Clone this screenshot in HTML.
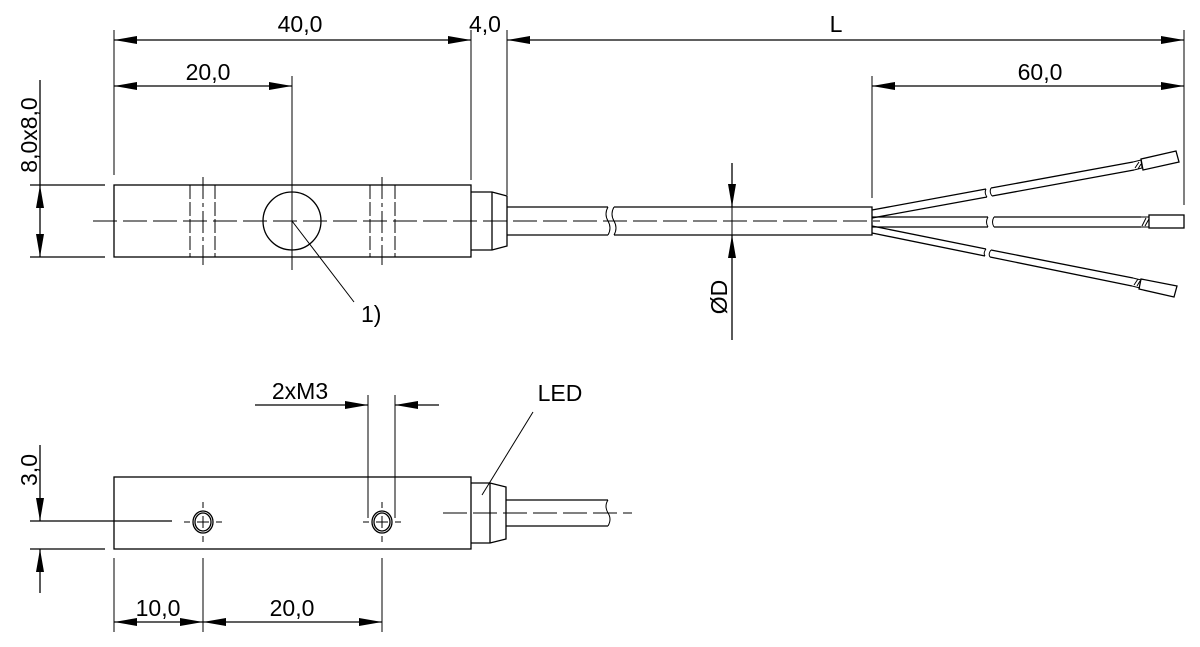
<!DOCTYPE html>
<html><head><meta charset="utf-8"><style>
html,body{margin:0;padding:0;background:#fff;}
svg{display:block}
text{font-family:"Liberation Sans",Arial,sans-serif;font-size:23px;fill:#000}
</style></head><body>
<svg width="1200" height="647" viewBox="0 0 1200 647" xmlns="http://www.w3.org/2000/svg">
<defs>
<marker id="a" markerWidth="24" markerHeight="10" refX="23" refY="5" orient="auto-start-reverse" markerUnits="userSpaceOnUse">
<path d="M0,1 L23,5 L0,9 Z" fill="#000"/></marker>
</defs>
<g stroke="#000" fill="none" stroke-width="1.3">
<line x1="114" y1="40" x2="471" y2="40" marker-start="url(#a)" marker-end="url(#a)"/>
<line x1="507" y1="40" x2="1184" y2="40" marker-start="url(#a)" marker-end="url(#a)"/>
<line x1="114" y1="86" x2="292" y2="86" marker-start="url(#a)" marker-end="url(#a)"/>
<line x1="872" y1="86" x2="1184" y2="86" marker-start="url(#a)" marker-end="url(#a)"/>
<line x1="114" y1="30" x2="114" y2="175" stroke-width="1"/>
<line x1="471" y1="30" x2="471" y2="180" stroke-width="1"/>
<line x1="507" y1="30" x2="507" y2="195" stroke-width="1"/>
<line x1="1184" y1="30" x2="1184" y2="205" stroke-width="1"/>
<line x1="872" y1="76" x2="872" y2="198" stroke-width="1"/>
<line x1="292" y1="76" x2="292" y2="270" stroke-width="1"/>
<line x1="40" y1="80" x2="40" y2="185"/>
<line x1="40" y1="185" x2="40" y2="257" marker-start="url(#a)" marker-end="url(#a)"/>
<line x1="30" y1="185" x2="105" y2="185"/>
<line x1="30" y1="257" x2="105" y2="257"/>
<rect x="114" y="185" width="357" height="72"/>
<ellipse cx="292" cy="221" rx="29" ry="29"/>
<g stroke-width="1">
<line x1="190" y1="185" x2="190" y2="257" stroke-dasharray="14,3"/>
<line x1="215" y1="185" x2="215" y2="257" stroke-dasharray="14,3"/>
<line x1="203" y1="177" x2="203" y2="265" stroke-dasharray="22,4,4,4"/>
<line x1="370" y1="185" x2="370" y2="257" stroke-dasharray="14,3"/>
<line x1="395" y1="185" x2="395" y2="257" stroke-dasharray="14,3"/>
<line x1="382" y1="177" x2="382" y2="265" stroke-dasharray="22,4,4,4"/>
</g>
<path d="M471,192 L492,192 L507,196 L507,246 L492,250 L471,250"/>
<line x1="492" y1="192" x2="492" y2="250"/>
<path d="M507,207 L608,207 M507,235 L608,235 M614,207 L872,207 L872,235 L614,235"/>
<path d="M608,207 q-4,7 0,14 q4,7 0,14 M614,207 q-4,7 0,14 q4,7 0,14" stroke-width="1"/>
<line x1="93" y1="221" x2="880" y2="221" stroke-width="1" stroke-dasharray="24,6"/>
<line x1="292" y1="221" x2="354" y2="302" stroke-width="1"/>
<line x1="732" y1="163" x2="732" y2="207" marker-end="url(#a)"/>
<line x1="732" y1="207" x2="732" y2="235" stroke-width="1"/>
<line x1="732" y1="340" x2="732" y2="235" marker-end="url(#a)"/>
<!-- wires with breaks -->
<path d="M872,210 L986,189 M872,218 L987,197 M991,188 L1133,162 M992,196 L1134,170"/>
<path d="M986,189 q-2,4 1,8 M991,188 q-2,4 1,8" stroke-width="1"/>
<path d="M872,217 L988,217 M872,227 L988,227 M994,217 L1141,217 M994,227 L1141,227"/>
<path d="M988,217 q-3,5 0,10 M994,217 q-3,5 0,10" stroke-width="1"/>
<path d="M872,226 L986,249 M872,233 L985,256 M991,250 L1133,278 M990,257 L1132,286"/>
<path d="M986,249 q-3,4 -1,7 M991,250 q-3,4 -1,7" stroke-width="1"/>
<!-- stripped ends hatched -->
<path d="M1133,162 L1141,160 M1134,170 L1142,168 M1141,160 L1142,168 M1135,168 L1139,162 M1138,169 L1141,164" stroke-width="1"/>
<path d="M1141,217 L1149,217 M1141,227 L1149,227 M1142,226 L1146,218 M1145,226 L1149,219" stroke-width="1"/>
<path d="M1133,278 L1141,280 M1132,286 L1140,288 M1134,285 L1138,279 M1137,286 L1140,281" stroke-width="1"/>
<polygon points="1141,159 1176,151 1179,162 1143,170"/>
<rect x="1149" y="215" width="35" height="13"/>
<polygon points="1141,279 1177,286 1174,297 1139,289"/>
<!-- BOTTOM VIEW -->
<rect x="114" y="477" width="357" height="72"/>
<path d="M471,483 L490,483 L506,487 L506,539 L490,543 L471,543"/>
<line x1="490" y1="483" x2="490" y2="543"/>
<path d="M506,500 L608,500 M506,526 L608,526"/>
<path d="M608,500 q-4,6 0,13 q4,6 0,13" stroke-width="1"/>
<line x1="443" y1="513" x2="632" y2="513" stroke-width="1" stroke-dasharray="24,6"/>
<ellipse cx="203" cy="522" rx="8" ry="9"/><ellipse cx="203" cy="522" rx="10" ry="11"/>
<ellipse cx="382" cy="522" rx="8" ry="9"/><ellipse cx="382" cy="522" rx="10" ry="11"/>
<g stroke-width="1">
<path d="M197,522 h12 M203,516 v12 M376,522 h12 M382,516 v12"/>
<path d="M190,522 h-6 M216,522 h6 M203,508 v-6 M203,536 v6 M369,522 h-6 M395,522 h6 M382,508 v-6 M382,536 v6"/>
</g>
<line x1="40" y1="445" x2="40" y2="521" marker-end="url(#a)"/>
<line x1="40" y1="593" x2="40" y2="549" marker-end="url(#a)"/>
<line x1="30" y1="521" x2="172" y2="521"/>
<line x1="30" y1="549" x2="105" y2="549"/>
<line x1="255" y1="405" x2="368" y2="405" marker-end="url(#a)"/>
<line x1="439" y1="405" x2="395" y2="405" marker-end="url(#a)"/>
<line x1="368" y1="395" x2="368" y2="518" stroke-width="1"/>
<line x1="395" y1="395" x2="395" y2="518" stroke-width="1"/>
<line x1="533" y1="412" x2="482" y2="495" stroke-width="1"/>
<line x1="114" y1="622" x2="203" y2="622" marker-start="url(#a)" marker-end="url(#a)"/>
<line x1="203" y1="622" x2="382" y2="622" marker-start="url(#a)" marker-end="url(#a)"/>
<line x1="114" y1="558" x2="114" y2="632" stroke-width="1"/>
<line x1="203" y1="558" x2="203" y2="632" stroke-width="1"/>
<line x1="382" y1="558" x2="382" y2="632" stroke-width="1"/>
</g>
<text x="300" y="32" text-anchor="middle">40,0</text>
<text x="485" y="32" text-anchor="middle">4,0</text>
<text x="836" y="32" text-anchor="middle">L</text>
<text x="208" y="80" text-anchor="middle">20,0</text>
<text x="1040" y="80" text-anchor="middle">60,0</text>
<text transform="translate(37,135) rotate(-90)" text-anchor="middle">8,0x8,0</text>
<text x="361" y="322">1)</text>
<text transform="translate(727,297) rotate(-90)" text-anchor="middle">ØD</text>
<text x="300" y="399" text-anchor="middle">2xM3</text>
<text x="560" y="401" text-anchor="middle">LED</text>
<text transform="translate(37,470) rotate(-90)" text-anchor="middle">3,0</text>
<text x="158" y="616" text-anchor="middle">10,0</text>
<text x="292" y="616" text-anchor="middle">20,0</text>
</svg>
</body></html>
